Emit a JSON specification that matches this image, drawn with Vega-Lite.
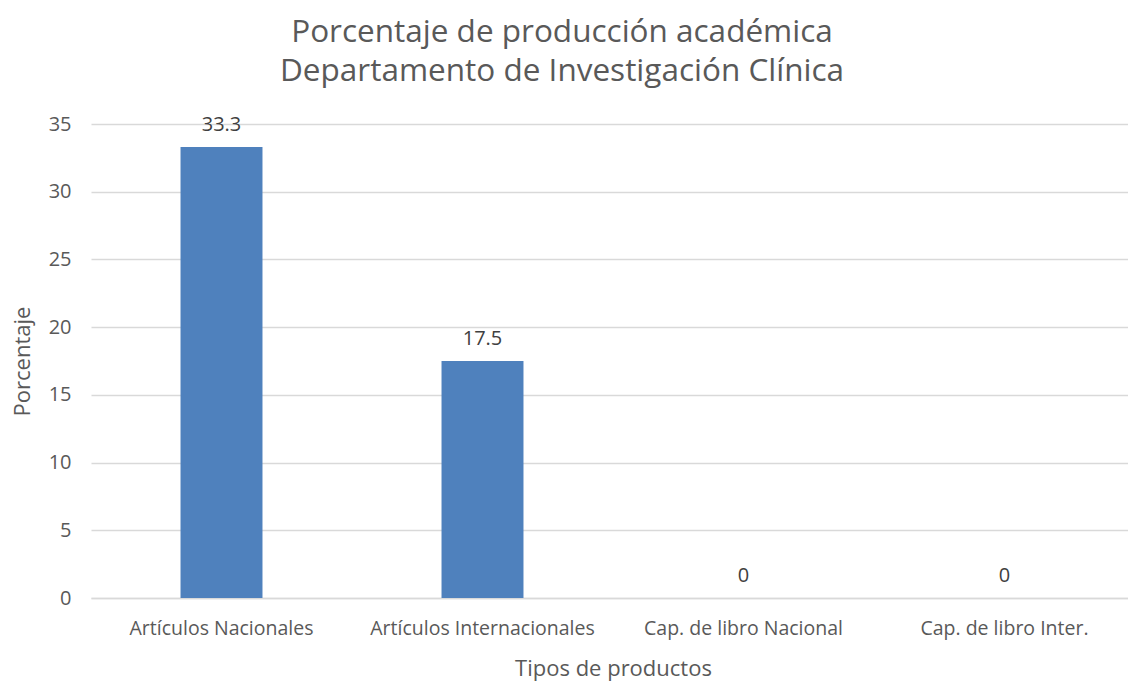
{
  "$schema": "https://vega.github.io/schema/vega-lite/v6.json",
  "autosize": {"type": "none"},
  "padding": {"left": 91, "top": 124, "right": 0, "bottom": 83},
  "width": 1044,
  "height": 474,
  "background": "white",
  "config": {
    "font": "Open Sans",
    "view": {"stroke": null}
  },
  "title": {
    "text": ["Porcentaje de producción académica", "Departamento de Investigación Clínica"],
    "fontSize": 31.5,
    "fontWeight": "normal",
    "color": "#595959",
    "lineHeight": 39,
    "anchor": "middle",
    "dx": -51,
    "offset": 27
  },
  "data": {
    "values": [
      {"tipo": "Artículos Nacionales", "porcentaje": 33.3},
      {"tipo": "Artículos Internacionales", "porcentaje": 17.5},
      {"tipo": "Cap. de libro Nacional", "porcentaje": 0},
      {"tipo": "Cap. de libro Inter.", "porcentaje": 0}
    ]
  },
  "encoding": {
    "x": {
      "field": "tipo",
      "type": "nominal",
      "sort": null,
      "scale": {"paddingInner": 0.686, "paddingOuter": 0.343},
      "axis": {
        "title": "Tipos de productos",
        "titleFontSize": 22,
        "titleFontWeight": "normal",
        "titleColor": "#595959",
        "titlePadding": 21,
        "labelAngle": 0,
        "labelFontSize": 19.5,
        "labelColor": "#595959",
        "labelPadding": 21,
        "labelLimit": 400,
        "ticks": false,
        "domainColor": "#d9d9d9",
        "domainWidth": 1.5
      }
    },
    "y": {
      "field": "porcentaje",
      "type": "quantitative",
      "scale": {"domain": [0, 35]},
      "axis": {
        "title": "Porcentaje",
        "titleFontSize": 22,
        "titleFontWeight": "normal",
        "titleColor": "#595959",
        "titlePadding": 14,
        "values": [0, 5, 10, 15, 20, 25, 30, 35],
        "labelFontSize": 20,
        "labelColor": "#595959",
        "labelPadding": 20,
        "ticks": false,
        "domain": false,
        "gridColor": "#d9d9d9",
        "gridWidth": 1.5
      }
    }
  },
  "layer": [
    {"mark": {"type": "bar", "color": "#4F81BD"}},
    {
      "mark": {"type": "text", "baseline": "alphabetic", "dy": -16, "fontSize": 20, "color": "#404040"},
      "encoding": {"text": {"field": "porcentaje", "type": "quantitative"}}
    }
  ]
}
